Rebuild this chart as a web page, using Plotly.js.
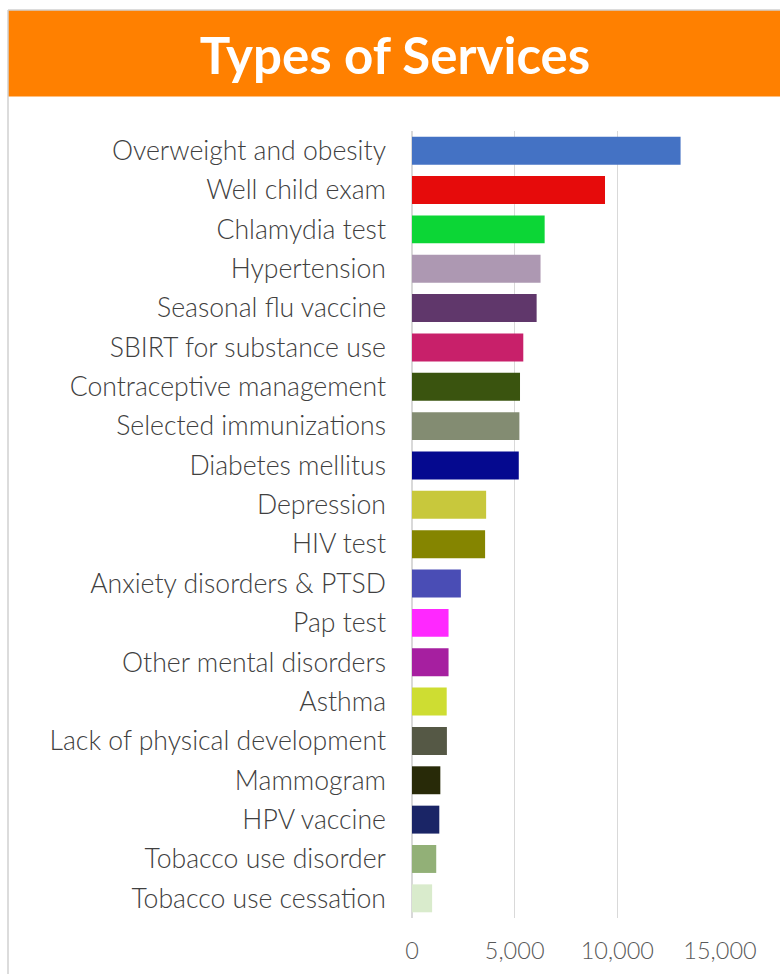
<!DOCTYPE html>
<html>
<head>
<meta charset="utf-8">
<script src="https://cdn.plot.ly/plotly-3.0.1.min.js"></script>
<style>html,body{margin:0;padding:0;background:#fff;}#chart{width:780px;height:974px;}</style>
</head>
<body>
<div id="chart"></div>
<script>
const categories = [
  "Overweight and obesity", "Well child exam", "Chlamydia test", "Hypertension",
  "Seasonal flu vaccine", "SBIRT for substance use", "Contraceptive management",
  "Selected immunizations", "Diabetes mellitus", "Depression", "HIV test",
  "Anxiety disorders & PTSD", "Pap test", "Other mental disorders", "Asthma",
  "Lack of physical development", "Mammogram", "HPV vaccine",
  "Tobacco use disorder", "Tobacco use cessation"
];
const values = [13080, 9400, 6460, 6260, 6070, 5420, 5260, 5230, 5200, 3610, 3560,
  2380, 1780, 1780, 1690, 1700, 1380, 1330, 1180, 980];
const barColors = ["#4472C4", "#E60B0B", "#0CD636", "#AD98B2", "#60376B", "#C8206A",
  "#3A540F", "#838C72", "#05098F", "#C8C83C", "#858500", "#4A4DB5", "#FF28FF",
  "#A61FA0", "#CEDD32", "#555845", "#282A08", "#1A2566", "#92B077", "#D9EBCC"];
const xTickVals = [0, 5000, 10000, 15000];
const xTickText = ["0", "5,000", "10,000", "15,000"];
const chartTitle = "Types of Services";

const L = 412, R = 720, T = 131, B = 918, W = 780, H = 974;
const px = x => (x - L) / (R - L);
const py = y => (B - y) / (B - T);

const trace = {
  type: "bar",
  orientation: "h",
  y: categories,
  x: values,
  marker: { color: barColors, line: { width: 0 } },
  width: 0.71,
  hoverinfo: "x+y"
};

const layout = {
  width: W, height: H,
  margin: { l: L, r: W - R, t: T, b: H - B, pad: 0 },
  paper_bgcolor: "#ffffff",
  plot_bgcolor: "#ffffff",
  showlegend: false,
  font: { family: "Lato, 'Open Sans', sans-serif", color: "#404040" },
  title: {
    text: chartTitle,
    font: { family: "Lato, sans-serif", size: 51, color: "#ffffff", weight: 700 },
    xref: "container", yref: "container",
    x: 395 / W, y: 1 - 56 / H, xanchor: "center", yanchor: "middle"
  },
  xaxis: {
    range: [0, 15000],
    tickvals: xTickVals,
    ticktext: xTickText,
    showgrid: true,
    gridcolor: "#D9D9D9",
    gridwidth: 1.5,
    zeroline: true,
    zerolinecolor: "#D9D9D9",
    zerolinewidth: 1.5,
    showline: false,
    ticks: "",
    ticklabelstandoff: 16,
    tickfont: { family: "Lato, sans-serif", size: 23.5, color: "#595959", weight: 300 },
    fixedrange: true
  },
  yaxis: {
    type: "category",
    autorange: "reversed",
    showgrid: false,
    zeroline: false,
    showline: false,
    ticks: "",
    ticklabelstandoff: 25,
    tickfont: { family: "Lato, sans-serif", size: 26.6, color: "#404040", weight: 300 },
    fixedrange: true
  },
  shapes: [
    { type: "rect", xref: "paper", yref: "paper", x0: px(8), x1: px(781), y0: py(96.5), y1: py(10),
      fillcolor: "#FF8000", line: { width: 0 }, layer: "below" },
    { type: "line", xref: "paper", yref: "paper", x0: px(8), x1: px(781), y0: py(10), y1: py(10),
      line: { color: "#D0D0D0", width: 1.5 } },
    { type: "line", xref: "paper", yref: "paper", x0: px(8), x1: px(8), y0: py(10), y1: py(975),
      line: { color: "#D0D0D0", width: 1.5 } }
  ]
};

Plotly.newPlot("chart", [trace], layout, { displayModeBar: false, staticPlot: true });
</script>
</body>
</html>
